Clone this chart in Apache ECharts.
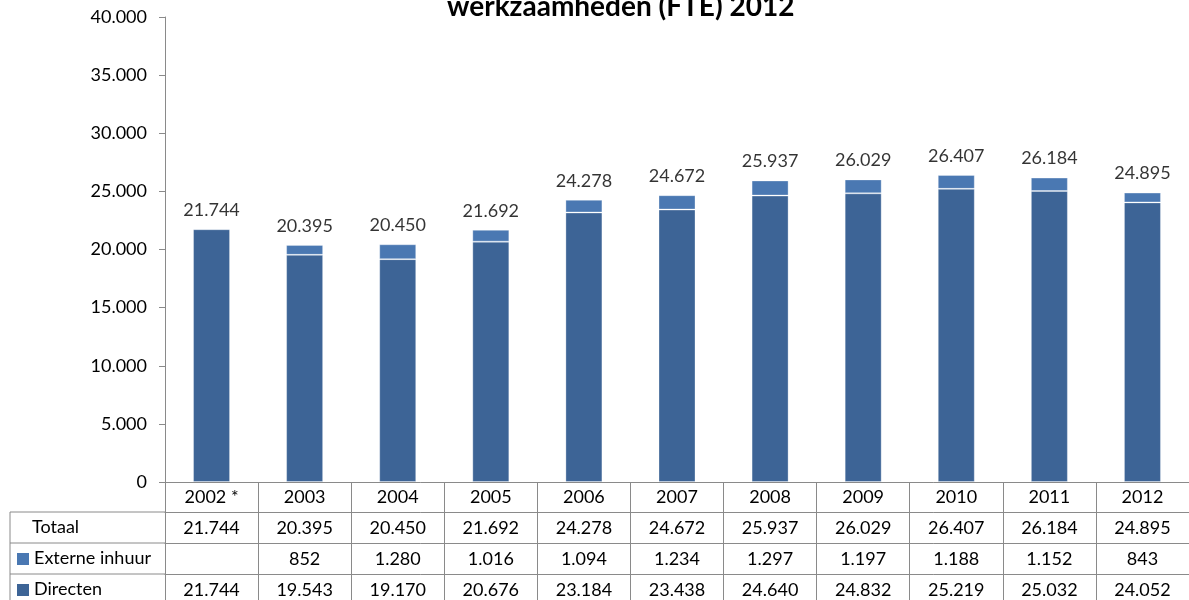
<!DOCTYPE html>
<html>
<head>
<meta charset="utf-8">
<script src="https://cdn.jsdelivr.net/npm/echarts@6/dist/echarts.min.js"></script>
<style>html,body{margin:0;padding:0;background:#fff;}#c{width:1189px;height:600px;}</style>
</head>
<body>
<div id="c"></div>
<script>
const categories = ['2002 *','2003','2004','2005','2006','2007','2008','2009','2010','2011','2012'];
const directen = [21744,19543,19170,20676,23184,23438,24640,24832,25219,25032,24052];
const externe = [null,852,1280,1016,1094,1234,1297,1197,1188,1152,843];
const totaal = [21744,20395,20450,21692,24278,24672,25937,26029,26407,26184,24895];
const rowNames = ['Totaal','Externe inhuur','Directen'];
const titleText = 'werkzaamheden (FTE) 2012';

const FONT = 'Lato';
const GRAY = '#8a8a8a';
const DARK = '#3d6496';
const LIGHT = '#4a78b2';

function fmt(n){ return n == null ? '' : String(n).replace(/\B(?=(\d{3})+(?!\d))/g, '.'); }

const chart = echarts.init(document.getElementById('c'));
const rowData = [totaal, externe, directen];
const gridLeft = 165, gridTop = 17, gridBottomY = 482, headerH = 30, rowH = 31;

const xAxes = [{
  type: 'category', data: categories, position: 'bottom', gridIndex: 0,
  axisLine: {show: true, lineStyle: {color: GRAY, width: 1}},
  axisTick: {show: true, interval: 0, length: headerH + rowH * 3, lineStyle: {color: GRAY, width: 1}},
  axisLabel: {interval: 0, fontFamily: FONT, fontSize: 18, color: '#000', margin: 6}
}];
rowData.forEach((arr, r) => {
  xAxes.push({
    type: 'category', data: categories, position: 'bottom', gridIndex: 0,
    offset: headerH + rowH * r,
    axisLine: {show: true, lineStyle: {color: GRAY, width: 1}},
    axisTick: {show: false},
    axisLabel: {interval: 0, fontFamily: FONT, fontSize: 18, color: '#000', margin: 7,
      formatter: (v, i) => fmt(arr[i])}
  });
});

const graphics = [{
  type: 'text', left: 447, top: -7,
  style: {text: titleText, fontFamily: FONT, fontSize: 28, fontWeight: 'bold', fill: '#000'}
}];
const leftX = 10;
rowNames.forEach((name, r) => {
  const y0 = gridBottomY + headerH + rowH * r;
  graphics.push({type: 'line', shape: {x1: leftX, y1: y0, x2: gridLeft, y2: y0}, style: {stroke: GRAY, lineWidth: 1}});
  let tx = 32;
  if (r > 0) {
    graphics.push({type: 'rect', shape: {x: 17, y: y0 + 10, width: 12, height: 12}, style: {fill: r === 1 ? LIGHT : DARK}});
    tx = 34;
  }
  graphics.push({type: 'text', x: tx, y: y0 + rowH / 2, style: {text: name, fontFamily: FONT, fontSize: 18, fill: '#000', verticalAlign: 'middle'}});
});
graphics.push({type: 'line', shape: {x1: leftX, y1: gridBottomY + headerH, x2: leftX, y2: 600}, style: {stroke: GRAY, lineWidth: 1}});

chart.setOption({
  animation: false,
  grid: {left: gridLeft, top: gridTop, width: 1028, height: gridBottomY - gridTop},
  xAxis: xAxes,
  yAxis: {
    type: 'value', min: 0, max: 40000, interval: 5000,
    axisLine: {show: true, lineStyle: {color: GRAY, width: 1}},
    axisTick: {show: true, length: 6, lineStyle: {color: GRAY}},
    splitLine: {show: false},
    axisLabel: {fontFamily: FONT, fontSize: 18, color: '#000', margin: 18, formatter: v => fmt(v)}
  },
  series: [
    {name: 'Directen', type: 'bar', stack: 't', data: directen, barWidth: 37,
      itemStyle: {color: DARK, borderColor: 'rgba(255,255,255,0.3)', borderWidth: 1}},
    {name: 'Externe inhuur', type: 'bar', stack: 't', data: externe, barWidth: 37,
      itemStyle: {color: LIGHT, borderColor: 'rgba(255,255,255,0.3)', borderWidth: 1}},
    {name: 'Totaal', type: 'scatter', data: totaal, symbolSize: 0, z: 5,
      label: {show: true, position: 'top', distance: 10, fontFamily: FONT, fontSize: 18, color: '#000',
        formatter: p => fmt(p.value)}}
  ],
  graphic: graphics
});
</script>
</body>
</html>
